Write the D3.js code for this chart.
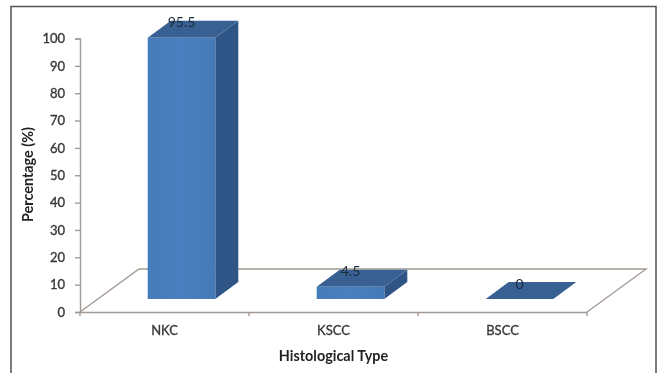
<!DOCTYPE html>
<html>
<head>
<meta charset="utf-8">
<script src="https://cdn.jsdelivr.net/npm/d3@7"></script>
<style>
  html, body { margin: 0; padding: 0; background: #fff; }
  svg { display: block; }
  text { font-family: Lato, "Open Sans", sans-serif; fill: #3a3a3a; }
</style>
</head>
<body>
<svg width="659" height="373"></svg>
<script>
var categories = ["NKC", "KSCC", "BSCC"];
var values = [95.5, 4.5, 0];
var yTicks = [0, 10, 20, 30, 40, 50, 60, 70, 80, 90, 100];

var svg = d3.select("svg");

// plot area
var x0 = 80, x1 = 587, yBase = 312, yTop = 38.5;
var depthFloor = [59, -43];   // floor goes back this far
var barShift = [17, -13];     // bars stand inside the floor
var barDepth = [23, -17];

var x = d3.scaleBand().domain(categories).range([x0, x1]).paddingInner(0.6).paddingOuter(0.3);
var y = d3.scaleLinear().domain([0, 100]).range([yBase, yTop]);
var line = d3.line();

// soft edge, the reference is a scanned picture
var defs = svg.append("defs");
var blur = defs.append("filter").attr("id", "soft");
blur.append("feGaussianBlur").attr("stdDeviation", 0.45);

var grad = defs.append("linearGradient").attr("id", "front")
    .attr("x1", 0).attr("x2", 1).attr("y1", 0).attr("y2", 0);
grad.append("stop").attr("offset", "0%").attr("stop-color", "#457bba");
grad.append("stop").attr("offset", "50%").attr("stop-color", "#4b7fbf");
grad.append("stop").attr("offset", "100%").attr("stop-color", "#4579b8");

// outer frame, open at the bottom
svg.append("path")
    .attr("d", line([[11, 373], [11, 6.5], [656, 6.5], [656, 373]]))
    .attr("fill", "none")
    .attr("stroke", "#55534f")
    .attr("stroke-width", 1.5);

var chart = svg.append("g").attr("filter", "url(#soft)");

// floor
var backLeft = [x0 + depthFloor[0], yBase + depthFloor[1]];
var backRight = [x1 + depthFloor[0], yBase + depthFloor[1]];
chart.append("path")
    .attr("d", line([[x0, yBase], backLeft, backRight, [x1, yBase]]))
    .attr("fill", "none")
    .attr("stroke", "#a39a94")
    .attr("stroke-width", 1.4);

// axes
var yAxis = chart.append("g")
    .attr("transform", "translate(" + x0 + ",0)")
    .call(d3.axisLeft(y).tickValues(yTicks).tickSize(5).tickPadding(10));
var xAxis = chart.append("g")
    .attr("transform", "translate(0," + yBase + ")")
    .call(d3.axisBottom(x).tickSize(0).tickPadding(14));

// band edges get the ticks
var step = x.step();
xAxis.selectAll(".edge").data(d3.range(4)).enter().append("line")
    .attr("class", "edge")
    .attr("x1", function(d) { return x0 + d * step; })
    .attr("x2", function(d) { return x0 + d * step; })
    .attr("y1", 0).attr("y2", 4)
    .attr("stroke", "#a39a94").attr("stroke-width", 1.4);

[yAxis, xAxis].forEach(function(a) {
  a.selectAll(".domain").attr("stroke", "#a39a94").attr("stroke-width", 1.4);
  a.selectAll(".tick line").attr("stroke", "#a39a94").attr("stroke-width", 1.4);
  a.selectAll("text").attr("fill", "#3a3a3a")
    .style("stroke", "#3a3a3a").style("stroke-width", 0.35);
});
yAxis.selectAll("text").style("font-size", "13px").style("font-family", "Lato, sans-serif");
xAxis.selectAll("text").style("font-size", "13px").style("font-family", "Lato, sans-serif");

// bars
var barH = function(v) { return yBase - y(v); };
var bars = chart.selectAll(".bar").data(categories).enter().append("g").attr("class", "bar");

bars.each(function(c, i) {
  var g = d3.select(this);
  var left = x(c) + barShift[0];
  var right = left + x.bandwidth();
  var bottom = yBase + barShift[1];
  var top = bottom - barH(values[i]);

  g.append("path") // side
    .attr("d", line([[right, bottom], [right + barDepth[0], bottom + barDepth[1]],
      [right + barDepth[0], top + barDepth[1]], [right, top]]) + "Z")
    .attr("fill", "#2f5585");
  g.append("path") // top
    .attr("d", line([[left, top], [left + barDepth[0], top + barDepth[1]],
      [right + barDepth[0], top + barDepth[1]], [right, top]]) + "Z")
    .attr("fill", "#376092");
  g.append("rect") // front
    .attr("x", left).attr("y", top)
    .attr("width", x.bandwidth()).attr("height", bottom - top)
    .attr("fill", "url(#front)");
  g.append("text")
    .attr("x", left + x.bandwidth() / 2)
    .attr("y", top + barDepth[1] + 6.5)
    .attr("text-anchor", "middle")
    .style("font-size", "14px")
    .style("fill", "#1c2a3a")
    .text(values[i]);
});

// axis titles
chart.append("text")
    .attr("transform", "translate(33,174.5) rotate(-90)")
    .attr("text-anchor", "middle")
    .style("font-size", "14.4px")
    .style("font-weight", "bold")
    .style("fill", "#222")
    .text("Percentage (%)");
chart.append("text")
    .attr("x", 333.5).attr("y", 361)
    .attr("text-anchor", "middle")
    .style("font-size", "14.4px")
    .style("font-weight", "bold")
    .style("fill", "#222")
    .text("Histological Type");
</script>
</body>
</html>
